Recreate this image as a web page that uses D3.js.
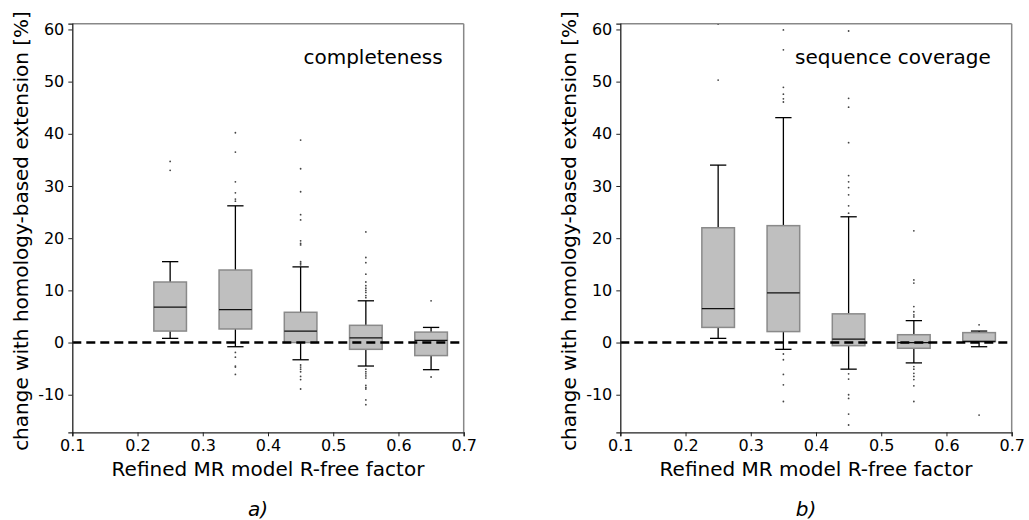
<!DOCTYPE html>
<html>
<head>
    <title>Change with homology-based extension</title>
    <script src="https://d3js.org/d3.v7.min.js"></script>
    <style>
        body { margin: 0; background: #fff; }
        text { font-family: "DejaVu Sans", sans-serif; fill: #000; }
        .tick text { font-size: 16px; }
        .axis-label { font-size: 20px; }
    </style>
</head>
<body>
    <svg width="1029" height="520"></svg>
    <script>
        // R-free bin centres
        var binCentres = [0.25, 0.35, 0.45, 0.55, 0.65];
        var xTicks = [0.1, 0.2, 0.3, 0.4, 0.5, 0.6, 0.7];
        var yTicks = [-10, 0, 10, 20, 30, 40, 50, 60];

        // completeness: [whiskerLow, q1, median, q3, whiskerHigh]
        var completenessStats = [
            [0.8, 2.2, 6.8, 11.6, 15.5],
            [-0.8, 2.6, 6.3, 13.9, 26.2],
            [-3.3, 0.0, 2.2, 5.8, 14.5],
            [-4.5, -1.3, 0.9, 3.3, 8.0],
            [-5.2, -2.5, 0.4, 2.0, 2.9]
        ];
        var completenessOutliers = [
            [34.7, 33.0],
            [40.2, 36.5, 30.8, 28.7, 27.5, 27.1, -1.9, -2.8, -4.5, -4.7, -6.1],
            [38.8, 33.3, 28.9, 24.5, 23.5, 19.5, 19.0, 18.7, 15.5, 15.2, 14.9, -4.3, -4.7, -5.1, -5.6, -6.5, -7.1, -8.9],
            [21.2, 16.3, 15.3, 13.1, 11.6, 10.9, 10.4, 10.0, 9.6, 9.0, 8.6, -5.1, -5.6, -6.0, -6.4, -6.8, -8.2, -8.6, -8.9, -11.0, -11.9],
            [8.0, -6.6]
        ];

        // sequence coverage
        var coverageStats = [
            [0.8, 2.9, 6.5, 22.0, 34.0],
            [-1.3, 2.1, 9.5, 22.4, 43.1],
            [-5.1, -0.6, 0.65, 5.5, 24.1],
            [-3.9, -1.1, 0.0, 1.5, 4.2],
            [-0.8, 0.2, 0.2, 1.9, 2.2]
        ];
        var coverageOutliers = [
            [61.0, 50.3],
            [59.9, 56.1, 48.9, 47.6, 46.7, 46.1, -2.2, -3.3, -6.1, -8.1, -11.3],
            [59.7, 46.8, 45.1, 38.3, 32.0, 30.8, 29.7, 28.3, 26.2, 24.8, -6.0, -7.0, -10.0, -10.7, -13.7, -15.8],
            [21.4, 12.0, 11.4, 6.9, 5.9, 5.3, 4.9, -4.6, -5.1, -5.9, -6.5, -7.1, -8.3, -11.3],
            [3.4, -13.9]
        ];

        var svg = d3.select("svg");
        var boxWidth = 0.05;

        function drawPanel(left, title, tag, stats, outliers) {
            var top = 23.7, plotW = 391.4, plotH = 408.6;
            var x = d3.scaleLinear().domain([0.1, 0.7]).range([0, plotW]);
            var y = d3.scaleLinear().domain([-17.2, 61.1]).range([plotH, 0]);

            var g = svg.append("g").attr("transform", "translate(" + left + "," + top + ")");

            var boxes = g.selectAll(".box")
                .data(binCentres.map(function(c, i) { return {c: c, s: stats[i], o: outliers[i]}; }))
                .enter().append("g");

            // whiskers
            boxes.append("line")
                .attr("x1", d => x(d.c)).attr("x2", d => x(d.c))
                .attr("y1", d => y(d.s[4])).attr("y2", d => y(d.s[3]))
                .attr("stroke", "#000").attr("stroke-width", 1.3);
            boxes.append("line")
                .attr("x1", d => x(d.c)).attr("x2", d => x(d.c))
                .attr("y1", d => y(d.s[1])).attr("y2", d => y(d.s[0]))
                .attr("stroke", "#000").attr("stroke-width", 1.3);
            [0, 4].forEach(function(k) {
                boxes.append("line")
                    .attr("x1", d => x(d.c - boxWidth / 4)).attr("x2", d => x(d.c + boxWidth / 4))
                    .attr("y1", d => y(d.s[k])).attr("y2", d => y(d.s[k]))
                    .attr("stroke", "#000").attr("stroke-width", 1.3);
            });

            // boxes
            boxes.append("rect")
                .attr("x", d => x(d.c - boxWidth / 2))
                .attr("width", x(0.1 + boxWidth) - x(0.1))
                .attr("y", d => y(d.s[3]))
                .attr("height", d => y(d.s[1]) - y(d.s[3]))
                .attr("fill", "#bfbfbf")
                .attr("stroke", "#8a8a8a")
                .attr("stroke-width", 1.5);

            // medians
            boxes.append("line")
                .attr("x1", d => x(d.c - boxWidth / 2)).attr("x2", d => x(d.c + boxWidth / 2))
                .attr("y1", d => y(d.s[2])).attr("y2", d => y(d.s[2]))
                .attr("stroke", "#111").attr("stroke-width", 1.3);

            // outliers
            boxes.selectAll("circle")
                .data(d => d.o.map(v => ({c: d.c, v: v})))
                .enter().append("circle")
                .attr("cx", d => x(d.c))
                .attr("cy", d => y(d.v))
                .attr("r", 0.9)
                .attr("fill", "#444");

            // zero line
            g.append("line")
                .attr("x1", 0).attr("x2", plotW)
                .attr("y1", y(0)).attr("y2", y(0))
                .attr("stroke", "#000").attr("stroke-width", 2.4)
                .attr("stroke-dasharray", "9,5");

            // frame
            g.append("line").attr("x1", 0).attr("x2", plotW).attr("y1", 0).attr("y2", 0)
                .attr("stroke", "#888").attr("stroke-width", 1.5);
            g.append("line").attr("x1", plotW).attr("x2", plotW).attr("y1", 0).attr("y2", plotH)
                .attr("stroke", "#888").attr("stroke-width", 1.5);

            var xAxis = g.append("g")
                .attr("transform", "translate(0," + plotH + ")")
                .call(d3.axisBottom(x).tickValues(xTicks).tickFormat(d3.format(".1f")).tickSizeOuter(0).tickSize(4).tickPadding(3));
            var yAxis = g.append("g")
                .call(d3.axisLeft(y).tickValues(yTicks).tickFormat(d => d < 0 ? "-" + Math.abs(d) : d).tickSizeOuter(0).tickSize(4).tickPadding(4));
            [xAxis, yAxis].forEach(function(a) {
                a.select(".domain").attr("stroke", "#222").attr("stroke-width", 1.3);
                a.selectAll(".tick line").attr("stroke", "#222");
                a.selectAll(".tick text").style("font-size", "16px").attr("fill", "#000");
            });

            g.append("text")
                .attr("class", "axis-label")
                .attr("x", plotW / 2)
                .attr("y", plotH + 44)
                .attr("text-anchor", "middle")
                .text("Refined MR model R-free factor");

            g.append("text")
                .attr("class", "axis-label")
                .attr("transform", "rotate(-90)")
                .attr("x", -plotH / 2 - 3)
                .attr("y", -44)
                .attr("text-anchor", "middle")
                .text("change with homology-based extension [%]");

            g.append("text")
                .attr("class", "axis-label")
                .attr("x", plotW - 21)
                .attr("y", 40)
                .attr("text-anchor", "end")
                .text(title);

            g.append("text")
                .attr("class", "axis-label")
                .attr("x", plotW / 2 - 10)
                .attr("y", plotH + 84)
                .attr("text-anchor", "middle")
                .style("font-style", "italic")
                .text(tag);
        }

        drawPanel(72.3, "completeness", "a)", completenessStats, completenessOutliers);
        drawPanel(620.3, "sequence coverage", "b)", coverageStats, coverageOutliers);
    </script>
</body>
</html>
